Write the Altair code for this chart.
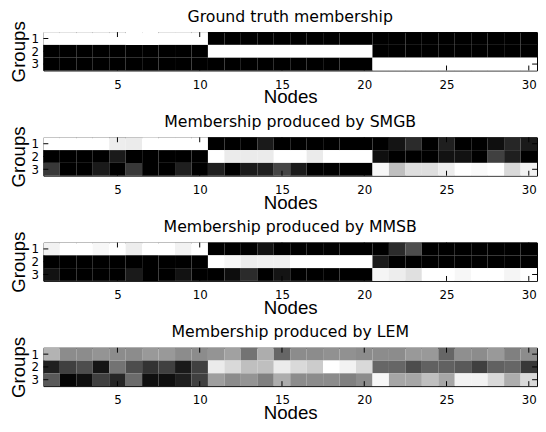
import altair as alt
import pandas as pd

nodes = list(range(1, 31))
groups = [1, 2, 3]
x_tick_values = [5, 10, 15, 20, 25, 30]
y_tick_values = [1, 2, 3]

titles = [
    "Ground truth membership",
    "Membership produced by SMGB",
    "Membership produced by MMSB",
    "Membership produced by LEM",
]

# grey level of each cell: 0 = black, 1 = white
truth_g1 = [1, 1, 1, 1, 1, 1, 1, 1, 1, 1, 0, 0, 0, 0, 0, 0, 0, 0, 0, 0, 0, 0, 0, 0, 0, 0, 0, 0, 0, 0]
truth_g2 = [0, 0, 0, 0, 0, 0, 0, 0, 0, 0, 1, 1, 1, 1, 1, 1, 1, 1, 1, 1, 0, 0, 0, 0, 0, 0, 0, 0, 0, 0]
truth_g3 = [0, 0, 0, 0, 0, 0, 0, 0, 0, 0, 0, 0, 0, 0, 0, 0, 0, 0, 0, 0, 1, 1, 1, 1, 1, 1, 1, 1, 1, 1]

smgb_g1 = [1, 1, 1, 1, 0.93, 0.92, 1, 1, 1, 1, 0, 0, 0, 0.1, 0, 0, 0, 0, 0, 0,
           0, 0.08, 0.17, 0, 0.12, 0, 0, 0.06, 0.15, 0.1]
smgb_g2 = [0, 0, 0, 0, 0.1, 0, 0, 0, 0, 0, 1, 0.92, 0.92, 0.92, 1, 1, 0.92, 1, 1, 1,
           0.06, 0, 0, 0, 0.07, 0.07, 0, 0.25, 0.12, 0]
smgb_g3 = [0.22, 0, 0, 0.1, 0, 0.22, 0, 0, 0.12, 0, 0.12, 0, 0.1, 0.12, 0.27, 0.1, 0, 0, 0, 0,
           0.97, 0.75, 0.87, 0.87, 0.93, 1, 0.98, 1, 0.85, 0.95]

mmsb_g1 = [0.95, 1, 1, 0.97, 1, 0.93, 1, 1, 0.95, 1, 0, 0, 0, 0.07, 0, 0, 0, 0, 0, 0,
           0, 0.17, 0.3, 0, 0, 0, 0, 0, 0, 0]
mmsb_g2 = [0, 0, 0, 0, 0, 0, 0, 0, 0, 0, 1, 0.97, 0.93, 0.94, 0.94, 1, 1, 1, 1, 1,
           0.1, 0, 0, 0, 0, 0, 0, 0, 0, 0]
mmsb_g3 = [0.07, 0, 0, 0, 0, 0.1, 0, 0, 0.07, 0, 0, 0.05, 0.17, 0, 0.08, 0, 0, 0, 0, 0,
           0.96, 0.93, 0.88, 1, 1, 0.97, 1, 1, 0.96, 1]

lem_g1 = [0.70, 0.55, 0.55, 0.58, 0.55, 0.55, 0.60, 0.60, 0.55, 0.55,
          0.58, 0.63, 0.45, 0.68, 0.40, 0.55, 0.55, 0.57, 0.57, 0.55,
          0.55, 0.55, 0.60, 0.60, 0.40, 0.56, 0.55, 0.60, 0.50, 0.55]
lem_g2 = [0.12, 0.25, 0.30, 0.08, 0.45, 0.30, 0.20, 0.25, 0.10, 0.25,
          0.92, 0.85, 0.75, 0.75, 0.92, 0.85, 0.80, 1.00, 0.95, 0.85,
          0.40, 0.40, 0.30, 0.38, 0.38, 0.35, 0.25, 0.38, 0.40, 0.22]
lem_g3 = [0.35, 0.02, 0.06, 0.25, 0.15, 0.42, 0.06, 0.06, 0.12, 0.25,
          0.62, 0.55, 0.58, 0.50, 0.68, 0.55, 0.55, 0.55, 0.50, 0.55,
          0.97, 0.65, 0.65, 0.75, 0.65, 0.95, 0.95, 0.85, 0.68, 0.85]

panel_rows = [
    [truth_g1, truth_g2, truth_g3],
    [smgb_g1, smgb_g2, smgb_g3],
    [mmsb_g1, mmsb_g2, mmsb_g3],
    [lem_g1, lem_g2, lem_g3],
]

W = 502
H = 39
TL = 5

x_scale = alt.Scale(domain=[0.5, 30.5], nice=False, zero=False)
y_scale = alt.Scale(domain=[0.5, 3.5], nice=False, zero=False, reverse=True)

x_axis = alt.Axis(values=x_tick_values, title="Nodes", format="d",
                  labelPadding=9, labelFlush=False, titlePadding=-2,
                  labelOverlap=False)
y_axis = alt.Axis(values=y_tick_values, title="Groups", format="d",
                  labelPadding=5, titlePadding=3, labelOverlap=False,
                  labelFlush=False, labelBound=False, labelSeparation=0)

xt = pd.DataFrame({"x0": x_tick_values})
yt = pd.DataFrame({"y0": y_tick_values})


def make_panel(title, rows):
    recs = []
    for g, row in zip(groups, rows):
        for n, v in zip(nodes, row):
            recs.append({"node": n, "group": g, "value": v})
    df = pd.DataFrame(recs)

    X = alt.X("x0:Q", scale=x_scale, axis=x_axis)
    Y = alt.Y("y0:Q", scale=y_scale, axis=y_axis)

    heat = alt.Chart(df).transform_calculate(
        x0="datum.node - 0.5", x1="datum.node + 0.5",
        y0="datum.group - 0.5", y1="datum.group + 0.5",
    ).mark_rect().encode(
        x=X, x2="x1:Q", y=Y, y2="y1:Q",
        color=alt.Color("value:Q",
                        scale=alt.Scale(domain=[0, 1], range=["#000000", "#ffffff"],
                                        interpolate="rgb"),
                        legend=None),
    )
    top_ticks = alt.Chart(xt).mark_rule(color="black", strokeWidth=1).encode(
        x=X, y=alt.value(0), y2=alt.value(TL))
    bot_ticks = alt.Chart(xt).mark_rule(color="black", strokeWidth=1).encode(
        x=X, y=alt.value(H - TL), y2=alt.value(H))
    left_ticks = alt.Chart(yt).mark_rule(color="black", strokeWidth=1).encode(
        y=Y, x=alt.value(0), x2=alt.value(TL))
    right_ticks = alt.Chart(yt).mark_rule(color="black", strokeWidth=1).encode(
        y=Y, x=alt.value(W - TL), x2=alt.value(W))
    return alt.layer(heat, top_ticks, bot_ticks, left_ticks, right_ticks).properties(
        width=W, height=H,
        title=alt.TitleParams(title, offset=-4, baseline="top", frame="group"))


charts = [make_panel(t, r) for t, r in zip(titles, panel_rows)]

chart = alt.vconcat(*charts, spacing=5).properties(
    padding={"left": 0, "top": -4, "right": 0, "bottom": -4},
    background="white",
).configure_view(
    stroke="black", strokeWidth=1
).configure_axis(
    ticks=False, tickSize=0, domain=False, grid=False,
    labelFont="DejaVu Sans", labelFontSize=12, labelColor="black",
    titleFont="Liberation Sans", titleFontSize=19, titleFontWeight="normal",
    titleColor="black", labelOverlap=False,
).configure_title(
    font="DejaVu Sans", fontSize=16, fontWeight="normal", color="black",
    anchor="middle",
)

chart.save("out.html", embed_options={"renderer": "svg", "actions": False})
